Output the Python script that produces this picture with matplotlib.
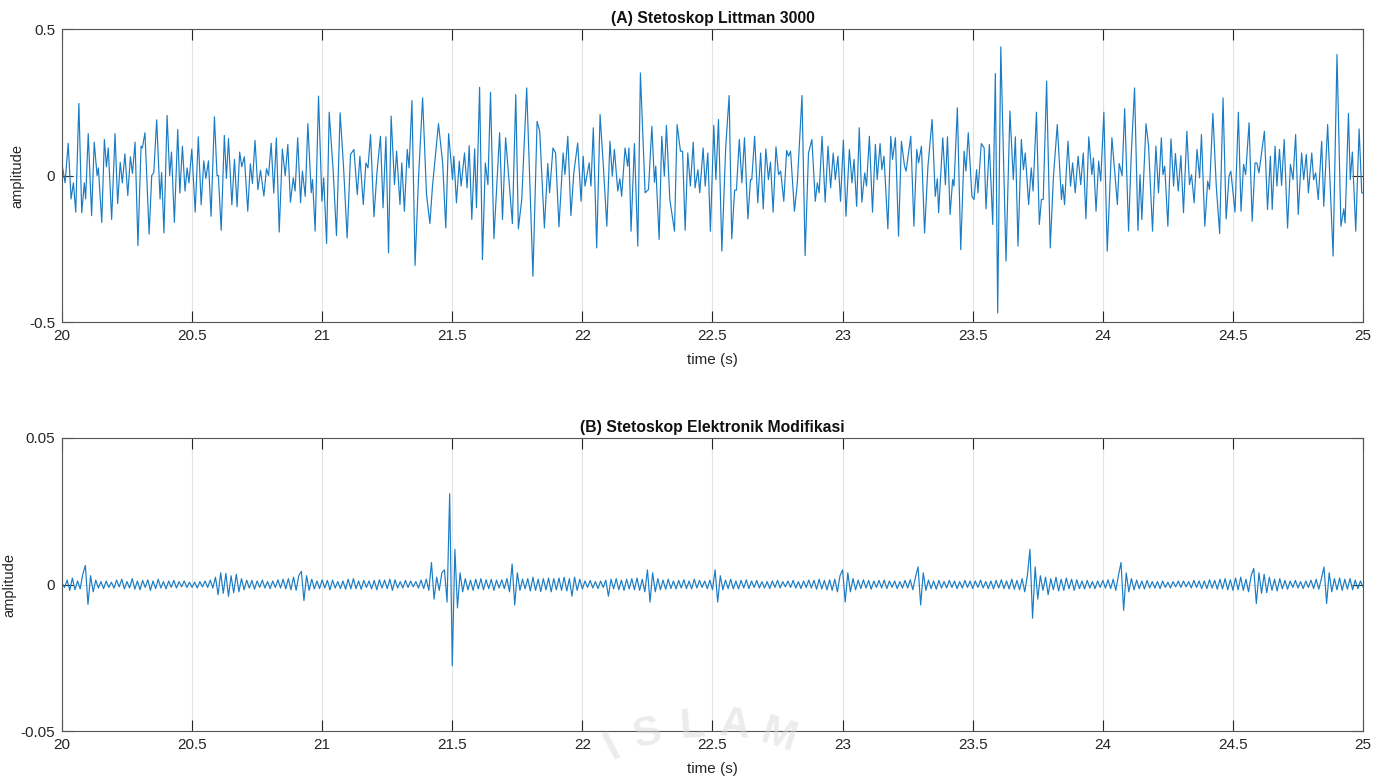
import numpy as np
import matplotlib.pyplot as plt

plt.rcParams['font.family'] = ['Liberation Sans', 'DejaVu Sans']
plt.rcParams['axes.unicode_minus'] = False

# (A) Littman 3000 - peak / trough times (s) and amplitudes
t_a = [
    20.000, 20.012, 20.024, 20.035, 20.044, 20.053, 20.065, 20.076, 20.086, 20.091,
    20.101, 20.114, 20.124, 20.135, 20.140, 20.153, 20.163, 20.171, 20.178, 20.191,
    20.204, 20.214, 20.224, 20.232, 20.242, 20.253, 20.263, 20.271, 20.281, 20.292,
    20.304, 20.309, 20.319, 20.335, 20.345, 20.353, 20.364, 20.377, 20.383, 20.392,
    20.404, 20.414, 20.421, 20.432, 20.445, 20.453, 20.463, 20.473, 20.481, 20.488,
    20.499, 20.512, 20.524, 20.535, 20.545, 20.553, 20.563, 20.573, 20.586, 20.596,
    20.601, 20.612, 20.624, 20.632, 20.640, 20.653, 20.663, 20.673, 20.683, 20.691,
    20.701, 20.714, 20.724, 20.732, 20.742, 20.753, 20.763, 20.776, 20.786, 20.794,
    20.804, 20.814, 20.824, 20.835, 20.847,
    20.858, 20.868, 20.878, 20.889, 20.896, 20.906, 20.917, 20.924, 20.935, 20.945,
    20.958, 20.963, 20.973, 20.986, 20.999, 21.006, 21.017, 21.027, 21.042, 21.055,
    21.069, 21.082, 21.096, 21.109, 21.122, 21.135, 21.145, 21.158, 21.168, 21.176,
    21.186, 21.199, 21.211, 21.224, 21.234, 21.245, 21.255, 21.265, 21.278, 21.286,
    21.299, 21.306, 21.316, 21.327, 21.334, 21.345, 21.357, 21.370, 21.386, 21.401,
    21.414, 21.424, 21.447, 21.463, 21.475, 21.486, 21.501, 21.506, 21.516, 21.527,
    21.534, 21.547, 21.557, 21.565, 21.575, 21.586, 21.593, 21.605, 21.616, 21.627,
    21.637, 21.647, 21.660, 21.673, 21.682, 21.693,
    21.705, 21.731, 21.744, 21.754, 21.767, 21.786, 21.810, 21.826, 21.836, 21.854,
    21.867, 21.874, 21.887, 21.897, 21.910, 21.926, 21.933, 21.944, 21.956, 21.967,
    21.982, 21.995, 22.003, 22.010, 22.026, 22.033, 22.042, 22.055, 22.068, 22.081,
    22.094, 22.106, 22.115, 22.123, 22.136, 22.144, 22.151, 22.164, 22.174, 22.179,
    22.187, 22.200, 22.213, 22.223, 22.241, 22.254, 22.267, 22.277, 22.282, 22.295,
    22.305, 22.315, 22.323, 22.336, 22.354, 22.364, 22.377, 22.385, 22.395, 22.405,
    22.415, 22.426, 22.433, 22.444, 22.451, 22.464, 22.472, 22.482, 22.492, 22.505,
    22.513, 22.523, 22.536,
    22.551, 22.564, 22.574, 22.585, 22.592, 22.603, 22.613, 22.623, 22.636, 22.646,
    22.651, 22.662, 22.674, 22.685, 22.695, 22.705, 22.715, 22.723, 22.733, 22.744,
    22.754, 22.762, 22.774, 22.785, 22.792, 22.800, 22.815, 22.826, 22.844, 22.856,
    22.869, 22.882, 22.895, 22.903, 22.910, 22.921, 22.933, 22.944, 22.954, 22.964,
    22.972, 22.982, 22.992, 23.003, 23.013, 23.026, 23.036, 23.044, 23.054, 23.064,
    23.074, 23.085, 23.092, 23.103, 23.115, 23.126, 23.133, 23.144, 23.151, 23.159,
    23.174, 23.185, 23.192, 23.203, 23.215, 23.226, 23.238, 23.244, 23.262, 23.274,
    23.285, 23.292, 23.303, 23.315, 23.328, 23.344, 23.356, 23.364, 23.369, 23.385,
    23.395, 23.403, 23.413, 23.423, 23.428, 23.441, 23.454, 23.467, 23.474, 23.483,
    23.497, 23.505, 23.515, 23.520, 23.533, 23.544, 23.551, 23.564, 23.577, 23.587,
    23.596, 23.608, 23.628, 23.643, 23.656, 23.664, 23.674, 23.687, 23.695, 23.702,
    23.715, 23.725, 23.732, 23.745, 23.756, 23.764, 23.771, 23.784, 23.798, 23.810,
    23.825, 23.841, 23.846, 23.853, 23.866, 23.876, 23.884, 23.894, 23.905, 23.915,
    23.925, 23.935, 23.946, 23.958, 23.964, 23.974, 23.984, 23.992, 24.004, 24.017,
    24.035, 24.056, 24.063, 24.074, 24.084, 24.099, 24.109, 24.122, 24.135, 24.143,
    24.150, 24.166, 24.176, 24.191, 24.204, 24.214, 24.225,
    24.231, 24.238, 24.250, 24.262, 24.272, 24.279, 24.290, 24.300, 24.310, 24.323,
    24.333, 24.341, 24.351, 24.362, 24.372, 24.379, 24.392, 24.403, 24.410, 24.423,
    24.436, 24.449, 24.462, 24.474, 24.485, 24.492, 24.508, 24.521, 24.531, 24.541,
    24.549, 24.562, 24.574, 24.585, 24.592, 24.600, 24.621, 24.633, 24.644, 24.651,
    24.662, 24.669, 24.679, 24.687, 24.697, 24.710, 24.721, 24.731, 24.741, 24.751,
    24.764, 24.772, 24.782, 24.790, 24.803, 24.810, 24.818, 24.828, 24.841, 24.849,
    24.864, 24.885, 24.900, 24.915, 24.926, 24.931, 24.944, 24.951, 24.959, 24.972,
    24.985, 24.995, 25.000,
]
amp_a = [
    0.04, -0.025, 0.11, -0.08, -0.025, -0.125, 0.246, -0.127, -0.025, -0.08,
    0.143, -0.137, 0.114, 0.0, 0.026, -0.16, 0.123, 0.03, 0.094, -0.15,
    0.143, -0.096, 0.045, -0.025, 0.074, -0.068, 0.064, 0.007, 0.114, -0.239,
    0.10, 0.094, 0.146, -0.2, 0.0, 0.01, 0.19, -0.08, 0.01, -0.196,
    0.205, 0.0, 0.08, -0.16, 0.157, -0.06, 0.10, -0.053, 0.026, -0.025,
    0.09, -0.125, 0.132, -0.1, 0.05, -0.01, 0.05, -0.139, 0.2, 0.0,
    0.0, -0.187, 0.137, -0.01, 0.126, -0.1, 0.055, -0.107, 0.08, 0.03,
    0.064, -0.122, 0.04, -0.027, 0.12, -0.048, 0.018, -0.07, 0.023, 0.0,
    0.11, -0.06, 0.128, -0.193, 0.09,
    0.0, 0.106, -0.091, -0.008, -0.053, 0.129, -0.093, 0.015, -0.071, 0.177,
    -0.059, -0.014, -0.19, 0.271, -0.088, -0.008, -0.232, 0.216, 0.02, -0.205,
    0.214, 0.032, -0.213, 0.072, 0.089, -0.065, 0.066, -0.099, 0.043, 0.026,
    0.14, -0.141, 0.015, 0.134, -0.11, 0.132, -0.264, 0.203, -0.031, 0.083,
    -0.099, 0.043, -0.122, 0.089, 0.026, 0.256, -0.307, -0.014, 0.265, -0.065,
    -0.164, -0.036, 0.177, 0.043, -0.179, 0.143, -0.014, 0.066, -0.093, 0.049,
    -0.036, 0.077, -0.042, 0.102, -0.15, 0.091, -0.11, 0.301, -0.287, 0.043,
    -0.031, 0.284, -0.216, 0.0, 0.146, -0.15,
    0.129, -0.164, 0.276, -0.182, -0.082, 0.299, -0.344, 0.185, 0.151, -0.179,
    0.041, -0.059, 0.094, 0.077, -0.175, 0.077, 0.003, 0.134, -0.137, 0.009,
    0.111, -0.088, 0.066, -0.036, 0.043, -0.036, 0.163, -0.247, 0.208, 0.026,
    -0.173, 0.117, -0.002, 0.089, -0.053, -0.011, -0.071, 0.094, 0.032, 0.094,
    -0.19, 0.109, -0.241, 0.35, -0.059, -0.048, 0.168, -0.023, 0.032, -0.218,
    0.134, -0.002, 0.171, -0.082, -0.19, 0.174, 0.083, 0.083, -0.187, 0.077,
    -0.036, 0.114, -0.042, 0.02, -0.059, 0.094, -0.036, 0.077, -0.19, 0.171,
    -0.014, 0.191, -0.258,
    0.1, 0.273, -0.216, -0.05, -0.05, 0.123, -0.025, 0.129, -0.148, -0.014,
    -0.014, 0.134, -0.093, 0.077, -0.114, 0.091, -0.014, 0.046, -0.125, 0.098,
    0.003, 0.015, -0.088, 0.086, 0.066, 0.083, -0.122, -0.025, 0.273, -0.273,
    0.077, 0.123, -0.088, -0.025, -0.059, 0.134, -0.091, 0.1, -0.042, 0.077,
    -0.014, 0.066, -0.088, 0.121, -0.139, 0.089, -0.025, 0.055, -0.105, 0.163,
    -0.091, 0.009, -0.036, 0.134, -0.125, 0.106, -0.014, 0.109, 0.02, 0.066,
    -0.182, 0.134, 0.055, 0.129, -0.207, 0.117, 0.032, 0.015, 0.134, -0.173,
    0.089, 0.043, 0.1, -0.196, 0.032, 0.191, -0.071, -0.011, -0.127, 0.129,
    -0.031, 0.132, -0.133, -0.014, -0.036, 0.231, -0.253, 0.083, 0.015, 0.146,
    -0.071, -0.082, 0.02, -0.059, 0.109, 0.094, -0.114, 0.106, -0.167, 0.348,
    -0.469, 0.439, -0.292, 0.22, -0.014, 0.132, -0.241, 0.123, 0.02, 0.077,
    -0.099, 0.026, -0.053, 0.216, -0.167, -0.082, -0.082, 0.322, -0.247, -0.008,
    0.174, -0.082, -0.031, -0.099, 0.117, -0.036, 0.043, -0.059, 0.066, -0.031,
    0.077, -0.148, 0.132, 0.003, 0.06, -0.122, 0.049, -0.019, 0.216, -0.258,
    0.129, -0.099, 0.041, 0.0, 0.228, -0.19, 0.066, 0.299, -0.187, 0.003,
    -0.15, 0.177, 0.1, -0.19, 0.1, -0.059, 0.129,
    0.003, 0.032, -0.173, 0.125, -0.036, 0.075, -0.053, 0.068, -0.127, 0.151,
    -0.031, 0.003, -0.093, 0.089, -0.008, 0.14, -0.173, -0.019, -0.048, 0.212,
    -0.036, -0.198, 0.265, -0.148, -0.002, 0.015, -0.125, 0.216, -0.122, 0.038,
    0.003, 0.18, -0.156, 0.043, 0.043, 0.009, 0.151, -0.116, 0.066, -0.116,
    0.1, -0.036, 0.089, -0.034, 0.123, -0.179, 0.038, -0.014, 0.14, -0.133,
    0.077, -0.014, 0.072, -0.059, 0.077, -0.014, 0.009, -0.082, 0.117, -0.105,
    0.174, -0.275, 0.413, -0.173, -0.114, -0.162, 0.212, -0.014, 0.08, -0.19,
    0.159, -0.059, -0.06,
]

# (B) modified electronic stethoscope - amplitude every 10 ms, in units of 1e-4
amp_b_e4 = [
    5, -10, 15, -20, 22, -18, 12, -15, 35, 65,
    -68, 30, -25, 15, -12, 10, -14, 12, -10, 8,
    -12, 15, -8, 18, -15, 10, -12, 20, -16, 12,
    -18, 14, -10, 16, -20, 12, -14, 18, -12, 10,
    -15, 12, -10, 14, -12, 10, -8, 12, -10, 8,
    -10, 8, -12, 10, -8, 12, -10, 15, -12, 25,
    -35, 40, -30, 38, -40, 30, -28, 35, -25, 20,
    -18, 15, -12, 14, -16, 12, -10, 15, -12, 10,
    -14, 12, -10, 16, -12, 18, -15, 20, -18, 25,
    -20, 30, 45, -55, 30, -20, 18, -15, 12, -14,
    16, -12, 14, -18, 15, -12, 10, -14, 12, -16,
    18, -15, 20, -14, 12, -16, 14, -10, 12, -15,
    14, -18, 16, -12, 15, -14, 18, -20, 16, -12,
    10, -12, 14, -10, 12, -8, 10, -12, 15, -14,
    18, -20, 75, -50, 25, -20, 40, 50, -60, 310,
    -277, 120, -80, 40, -25, 20, -18, 15, -20, 18,
    -15, 20, -18, 16, -14, 18, -20, 15, -12, 16,
    -14, 20, -25, 70, -70, 40, -20, 18, -15, 20,
    -22, 25, -20, 18, -24, 20, -18, 22, -25, 20,
    -18, 22, -20, 25, -22, 20, -40, 25, -20, 18,
    -15, 12, -10, 14, -12, 10, -14, 12, -10, 15,
    -40, 18, -15, 20, -18, 15, -20, 18, -15, 20,
    -18, 22, -20, 18, -25, 50, -60, 40, -25, 20,
    -18, 15, -16, 18, -14, 12, -15, 14, -12, 16,
    -14, 12, -15, 18, -12, 14, -10, 12, -14, 15,
    -18, 50, -60, 30, -18, 15, -14, 18, -15, 12,
    -15, 14, -12, 16, -14, 12, -10, 14, -12, 10,
    -12, 10, -14, 12, -10, 14, -12, 10, -8, 12,
    -10, 14, -12, 10, -14, 12, -10, 15, -12, 14,
    -16, 18, -15, 14, -18, 16, -20, 18, -25, 30,
    50, -60, 40, -25, 20, -18, 15, -14, 16, -12,
    14, -16, 12, -10, 14, -12, 15, -14, 12, -10,
    12, -14, 10, -12, 14, -12, 16, -18, 25, 60,
    -70, 40, -20, 15, -14, 12, -16, 14, -12, 10,
    -12, 14, -10, 12, -14, 10, -12, 14, -10, 12,
    -14, 12, -10, 15, -12, 10, -14, 12, -15, 14,
    -12, 16, -14, 12, -15, 18, -16, 14, -18, 20,
    -25, 30, 120, -115, 60, -50, 30, -20, 25, -35,
    20, -18, 25, -22, 18, -20, 22, -15, 18, -20,
    16, -14, 12, -15, 14, -12, 10, -14, 12, -10,
    14, -12, 16, -14, 18, -20, 30, 75, -88, 40,
    -25, 20, -18, 15, -14, 12, -15, 14, -12, 10,
    -12, 10, -14, 12, -10, 8, -12, 10, -8, 12,
    -10, 12, -8, 10, -12, 14, -10, 12, -14, 12,
    -14, 16, -12, 14, -16, 18, -15, 20, -18, 16,
    -20, 22, -18, 25, -20, 18, -25, 30, 55, -65,
    40, -30, 35, -28, 25, -20, 18, -22, 20, -15,
    14, -16, 12, -10, 14, -12, 10, -14, 12, -10,
    15, -14, 18, -16, 20, 60, -65, 40, -25, 20,
    -18, 22, -20, 18, -16, 20, -18, 15, -14, 12,
    -8,
]
amp_b = np.array(amp_b_e4) * 1e-4
t_b = np.linspace(20, 25, len(amp_b))

x_ticks = [20, 20.5, 21, 21.5, 22, 22.5, 23, 23.5, 24, 24.5, 25]
x_labels = ['20', '20.5', '21', '21.5', '22', '22.5', '23', '23.5', '24', '24.5', '25']

panels = [
    ('(A) Stetoskop Littman 3000', t_a, amp_a, [-0.5, 0, 0.5], ['-0.5', '0', '0.5']),
    ('(B) Stetoskop Elektronik Modifikasi', t_b, amp_b, [-0.05, 0, 0.05], ['-0.05', '0', '0.05']),
]

fig = plt.figure(figsize=(13.89, 7.82), dpi=100)
boxes = [[0.0446, 0.5882, 0.9367, 0.3747], [0.0446, 0.0652, 0.9367, 0.3747]]

for box, (title, tt, yy, yt, yl) in zip(boxes, panels):
    ax = fig.add_axes(box)
    ax.plot(tt, yy, color='#1a7cc4', lw=0.85, solid_joinstyle='round')
    ax.set_xlim(20, 25)
    ax.set_ylim(yt[0], yt[-1])
    ax.set_xticks(x_ticks)
    ax.set_xticklabels(x_labels)
    ax.set_yticks(yt)
    ax.set_yticklabels(yl)
    ax.grid(True, color='#e3e3e3', lw=0.8)
    ax.set_axisbelow(True)
    ax.tick_params(direction='in', length=8, width=0.8, colors='#262626',
                   top=True, right=True, labelsize=11, pad=5)
    for s in ax.spines.values():
        s.set_color('#555555')
        s.set_linewidth(0.8)
    ax.set_title(title, fontsize=11.3, fontweight='bold', pad=4, color='#111111')
    ax.set_xlabel('time (s)', fontsize=11, color='#262626', labelpad=7)
    ax.set_ylabel('amplitude', fontsize=10.5, color='#262626', labelpad=3)

# faint watermark at the bottom of the page
wm = [('I', 612, 748, 28), ('S', 648, 734, 14), ('L', 692, 726, 4),
      ('A', 735, 726, -6), ('M', 778, 736, -18)]
for ch, px, py, rot in wm:
    fig.text(px / 1389, 1 - py / 782, ch, fontsize=30, fontweight='bold',
             color='#d9d9d9', alpha=0.5, rotation=rot, ha='center', va='center', zorder=0)

fig.savefig('out.png', dpi=100)
